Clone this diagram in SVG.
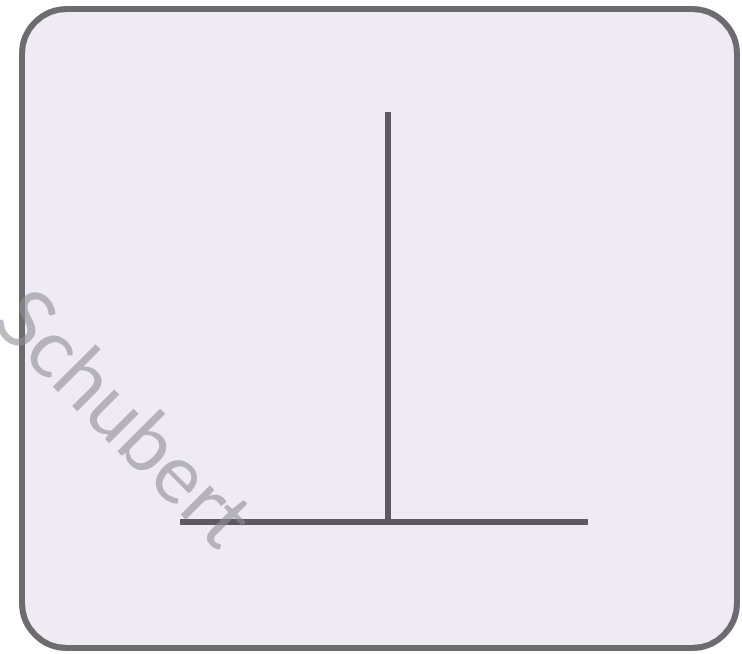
<svg xmlns="http://www.w3.org/2000/svg" width="742" height="654" viewBox="0 0 742 654">
<style>
.frame{fill:#eeecf2;stroke:#6c6b70;stroke-width:6}
.bar{stroke:#5c5a60;stroke-width:6;stroke-linecap:butt}
.wm{font-family:Lato,"Open Sans",sans-serif;font-size:82px;fill:#8f8e94;fill-opacity:0.6}
</style>
<rect width="742" height="654" fill="#ffffff"/>
<g id="frame"><rect class="frame" x="22" y="9" width="715" height="639" rx="45" ry="45"/></g>
<g id="connectors">
<line class="bar" x1="388" y1="112" x2="388" y2="522"/>
<line class="bar" x1="180" y1="522" x2="588" y2="522"/>
</g>
<g id="watermark"><text class="wm" transform="translate(104,438) rotate(45)" text-anchor="middle">Schubert</text></g>
</svg>
